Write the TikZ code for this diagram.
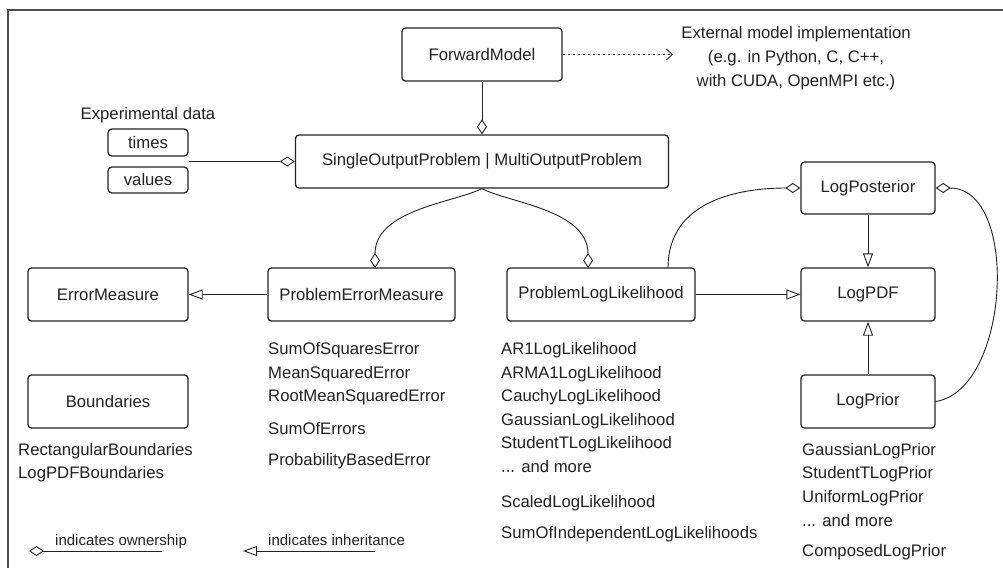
\documentclass[tikz,border=0pt]{standalone}
\usepackage{fontspec}
\setmainfont{Liberation Sans}
\usetikzlibrary{arrows.meta}
\newcommand\mainsz{\fontsize{16.7}{24}\selectfont}
\newcommand\legsz{\fontsize{15}{18}\selectfont}
\definecolor{ink}{HTML}{222222}
\tikzset{
  box/.style={draw=ink, line width=1.3pt, rounded corners=3.5pt, fill=white, font=\mainsz, text=ink, inner sep=0pt},
  item/.style={anchor=base west, font=\mainsz, text=ink, inner sep=0pt},
  conn/.style={draw=ink, line width=0.9pt},
  own/.style={conn, -{Diamond[open, length=15pt, width=10pt]}},
  inh/.style={conn, -{Triangle[open, length=14pt, width=10pt]}},
}
\begin{document}
\begin{tikzpicture}[x=1pt, y=-1pt]
\useasboundingbox[fill=white] (0,0) rectangle (1003,568);
% frame (only top and left edges inside the picture)
\coordinate (f1) at (8,568);
\coordinate (f2) at (8,10);
\coordinate (f3) at (1003,10);
\draw[draw=black!70, line width=1.6pt] (f1) -- (f2) -- (f3);

% boxes
\node[box, minimum width=160pt, minimum height=53pt] (fm) at (482,54.5) {ForwardModel};
\node[box, minimum width=373pt, minimum height=53pt] (sop) at (482,161.5) {SingleOutputProblem | MultiOutputProblem};
\node[box, minimum width=80pt, minimum height=27pt, rounded corners=4pt] (times) at (148,142.5) {times};
\node[box, minimum width=80pt, minimum height=26pt, rounded corners=4pt] (values) at (148,180) {values};
\node[item, anchor=base] (expd) at (148,119) {Experimental data};
\node[box, minimum width=160pt, minimum height=53pt] (em) at (108,294.5) {ErrorMeasure};
\node[box, minimum width=187pt, minimum height=53pt] (pem) at (361.5,294.5) {ProblemErrorMeasure};
\node[box, minimum width=188pt, minimum height=53pt] (pll) at (601,294.5) {ProblemLogLikelihood};
\node[box, minimum width=134pt, minimum height=53pt] (lpdf) at (868,294.5) {LogPDF};
\node[box, minimum width=134pt, minimum height=52pt] (lpost) at (868,188) {LogPosterior};
\node[box, minimum width=134pt, minimum height=53pt] (lprior) at (868,401.5) {LogPrior};
\node[box, minimum width=160pt, minimum height=53pt] (bnd) at (108,401.5) {Boundaries};

% external model text
\node[font=\mainsz, text=ink, align=center, inner sep=0pt] (ext) at (796,58) {External model implementation\\(e.g. in Python, C, C++,\\with CUDA, OpenMPI etc.)};
\coordinate (extin) at (673,54.5);
\draw[conn, dash pattern=on 2.5pt off 2.5pt, -{Straight Barb[length=6pt, width=11pt]}] (fm.east) -- (extin);

% ownership
\draw[own] (fm.south) -- (sop.north);
\coordinate (tvr) at (189,161.5);
\draw[own] (tvr) -- (sop.west);
\draw[own] (sop.south) .. controls (452,203) and (375,210) .. (375,268);
\draw[own] (sop.south) .. controls (510,203) and (588,210) .. (588,268);
\coordinate (pllt) at (668,268);
\draw[own] (pllt) .. controls (668,200) and (740,188) .. (lpost.west);
\draw[own] (lprior.east) .. controls (1010,390) and (1020,188) .. (lpost.east);

% inheritance
\draw[inh] (pem.west) -- (em.east);
\draw[inh] (pll.east) -- (lpdf.west);
\draw[inh] (lpost.south) -- (lpdf.north);
\draw[inh] (lprior.north) -- (lpdf.south);

% lists
\node[item] (e1) at (268,354) {SumOfSquaresError};
\node[item] (e2) at (268,378) {MeanSquaredError};
\node[item] (e3) at (268,401) {RootMeanSquaredError};
\node[item] (e4) at (268,434) {SumOfErrors};
\node[item] (e5) at (268,465) {ProbabilityBasedError};

\node[item] (b1) at (18,455) {RectangularBoundaries};
\node[item] (b2) at (18,478) {LogPDFBoundaries};

\node[item] (l1) at (501,354) {AR1LogLikelihood};
\node[item] (l2) at (501,378) {ARMA1LogLikelihood};
\node[item] (l3) at (501,401) {CauchyLogLikelihood};
\node[item] (l4) at (501,425) {GaussianLogLikelihood};
\node[item] (l5) at (501,448) {StudentTLogLikelihood};
\node[item] (l6) at (501,472) {... and more};
\node[item] (l7) at (501,507) {ScaledLogLikelihood};
\node[item] (l8) at (501,538) {SumOfIndependentLogLikelihoods};

\node[item] (p1) at (802,455) {GaussianLogPrior};
\node[item] (p2) at (802,478) {StudentTLogPrior};
\node[item] (p3) at (802,502) {UniformLogPrior};
\node[item] (p4) at (802,526) {... and more};
\node[item] (p5) at (802,556) {ComposedLogPrior};

% legend
\coordinate (lo1) at (29,551);
\coordinate (lo2) at (162,551);
\draw[own] (lo2) -- (lo1);
\node[item, font=\legsz] (lot) at (55,545) {indicates ownership};
\coordinate (li1) at (243,551);
\coordinate (li2) at (375,551);
\draw[inh] (li2) -- (li1);
\node[item, font=\legsz] (lit) at (268,545) {indicates inheritance};
\end{tikzpicture}
\end{document}
